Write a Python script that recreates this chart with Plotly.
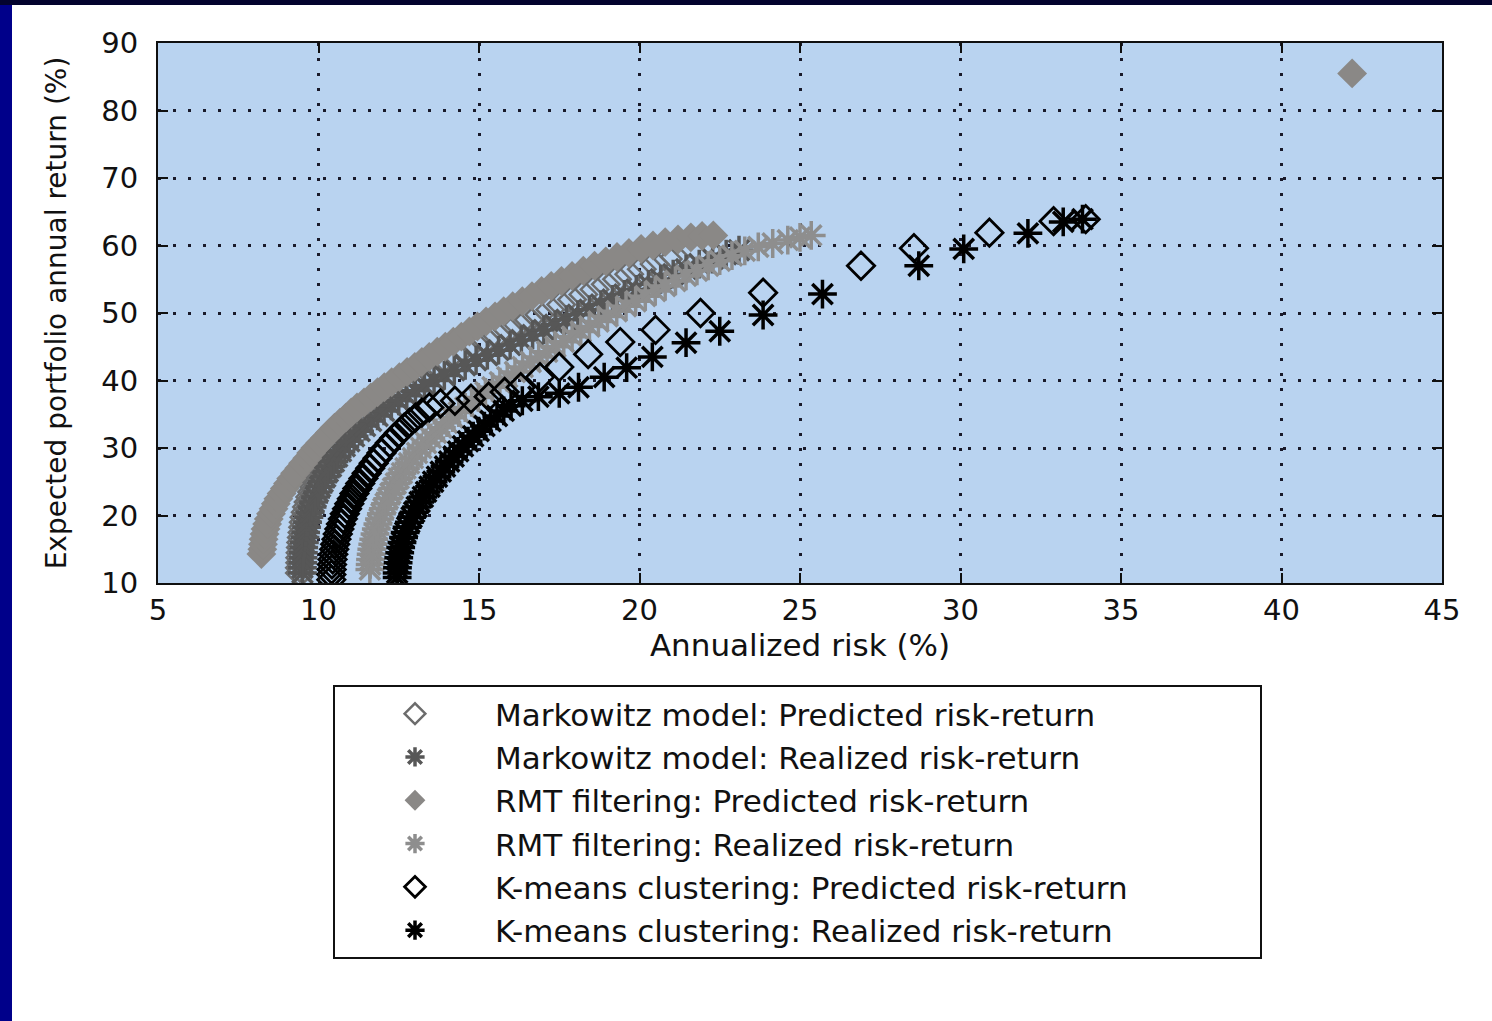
import plotly.graph_objects as go

# ---- Markowitz model ----
mk_pred_ret = [11.5, 12.25, 13.0, 13.75, 14.5, 15.25, 16.0, 16.75, 17.5, 18.25, 19.0, 19.75, 20.5,
               21.25, 22.0, 22.75, 23.5, 24.25, 25.0, 25.75, 26.5, 27.25, 28.0, 28.75, 29.5, 30.25,
               31.0, 31.75, 32.5, 33.25, 34.0, 34.75, 35.5, 36.25, 37.0, 37.75, 38.5, 39.25, 40.0,
               40.75, 41.5, 42.25, 43.0, 43.75, 44.5, 45.25, 46.0, 46.75, 47.5, 48.25, 49.0, 49.75,
               50.5, 51.25, 52.0, 52.75, 53.5, 54.25, 55.0, 55.75, 56.5, 57.25, 58.0, 58.3]
mk_pred_risk = [9.42, 9.42, 9.43, 9.43, 9.44, 9.45, 9.46, 9.48, 9.50, 9.52, 9.54, 9.56, 9.60,
                9.64, 9.69, 9.74, 9.80, 9.86, 9.93, 10.01, 10.09, 10.18, 10.27, 10.36, 10.45, 10.55,
                10.67, 10.80, 10.94, 11.09, 11.24, 11.39, 11.55, 11.74, 11.96, 12.17, 12.40, 12.64, 12.90,
                13.15, 13.42, 13.70, 13.98, 14.28, 14.58, 14.90, 15.22, 15.55, 15.90, 16.22, 16.55, 16.88,
                17.22, 17.56, 17.90, 18.25, 18.60, 18.95, 19.30, 19.68, 20.07, 20.47, 20.88, 21.10]

mk_real_ret = [11.5, 12.25, 13.0, 13.75, 14.5, 15.25, 16.0, 16.75, 17.5, 18.25, 19.0, 19.75, 20.5,
               21.25, 22.0, 22.75, 23.5, 24.25, 25.0, 25.75, 26.5, 27.25, 28.0, 28.75, 29.5, 30.25,
               31.0, 31.75, 32.5, 33.25, 34.0, 34.75, 35.5, 36.25, 37.0, 37.75, 38.5, 39.25, 40.0,
               40.75, 41.5, 42.25, 43.0, 43.75, 44.5, 45.25, 46.0, 46.75, 47.5, 48.25, 49.0, 49.75,
               50.5, 51.25, 52.0, 52.75, 53.5, 54.25, 55.0, 55.75, 56.5, 57.25, 58.0, 58.7, 59.3]
mk_real_risk = [9.50, 9.50, 9.51, 9.52, 9.53, 9.54, 9.56, 9.58, 9.60, 9.63, 9.66, 9.70, 9.74,
                9.80, 9.85, 9.91, 9.98, 10.05, 10.13, 10.21, 10.29, 10.39, 10.48, 10.58, 10.70, 10.82,
                10.96, 11.11, 11.28, 11.45, 11.64, 11.84, 12.04, 12.27, 12.50, 12.75, 13.02, 13.30, 13.60,
                13.92, 14.23, 14.57, 14.91, 15.26, 15.61, 15.97, 16.32, 16.67, 17.02, 17.37, 17.72, 18.08,
                18.44, 18.80, 19.16, 19.53, 19.90, 20.28, 20.66, 21.05, 21.45, 21.86, 22.28, 22.70, 23.10]

# ---- RMT filtering ----
rmt_pred_ret = [14.3, 15.0, 15.75, 16.5, 17.25, 18.0, 18.75, 19.5, 20.25, 21.0, 21.75, 22.5, 23.25,
                24.0, 24.75, 25.5, 26.25, 27.0, 27.75, 28.5, 29.25, 30.0, 30.75, 31.5, 32.25, 33.0,
                33.75, 34.5, 35.25, 36.0, 36.75, 37.5, 38.25, 39.0, 39.75, 40.5, 41.25, 42.0, 42.75,
                43.5, 44.25, 45.0, 45.75, 46.5, 47.25, 48.0, 48.75, 49.5, 50.25, 51.0, 51.75, 52.5,
                53.25, 54.0, 54.75, 55.5, 56.25, 57.0, 57.65, 58.3, 58.9, 59.5, 60.0, 60.5, 60.9,
                61.2, 61.4, 61.5, 85.5]
rmt_pred_risk = [8.22, 8.25, 8.27, 8.29, 8.32, 8.35, 8.40, 8.45, 8.52, 8.60, 8.67, 8.75, 8.85,
                 8.95, 9.05, 9.15, 9.27, 9.40, 9.52, 9.65, 9.77, 9.90, 10.05, 10.20, 10.35, 10.50,
                 10.67, 10.85, 11.02, 11.20, 11.42, 11.63, 11.84, 12.05, 12.28, 12.52, 12.76, 13.0, 13.22,
                 13.45, 13.70, 13.95, 14.20, 14.45, 14.70, 14.95, 15.22, 15.50, 15.77, 16.05, 16.35, 16.65,
                 16.95, 17.25, 17.57, 17.90, 18.25, 18.60, 18.95, 19.30, 19.67, 20.05, 20.42, 20.80, 21.20,
                 21.60, 21.95, 22.30, 42.2]

rmt_real_ret = [12.0, 12.75, 13.5, 14.25, 15.0, 15.75, 16.5, 17.25, 18.0, 18.75, 19.5, 20.25, 21.0,
                21.75, 22.5, 23.25, 24.0, 24.75, 25.5, 26.25, 27.0, 27.75, 28.5, 29.25, 30.0, 30.75,
                31.5, 32.25, 33.0, 33.75, 34.5, 35.25, 36.0, 36.75, 37.5, 38.25, 39.0, 39.75, 40.5,
                41.25, 42.0, 42.75, 43.5, 44.25, 45.0, 45.75, 46.5, 47.25, 48.0, 48.75, 49.5, 50.25,
                51.0, 51.75, 52.5, 53.25, 54.0, 54.75, 55.5, 56.25, 57.0, 57.75, 58.5, 59.2, 59.8,
                60.3, 60.8, 61.2, 61.5]
rmt_real_risk = [11.60, 11.61, 11.62, 11.64, 11.66, 11.69, 11.72, 11.76, 11.80, 11.85, 11.90, 11.96, 12.02,
                 12.09, 12.16, 12.24, 12.32, 12.41, 12.50, 12.60, 12.71, 12.82, 12.94, 13.07, 13.20, 13.35,
                 13.50, 13.66, 13.83, 14.00, 14.18, 14.37, 14.57, 14.77, 14.98, 15.20, 15.42, 15.65, 15.88,
                 16.12, 16.36, 16.61, 16.86, 17.12, 17.38, 17.64, 17.90, 18.17, 18.44, 18.72, 19.00, 19.29,
                 19.58, 19.88, 20.18, 20.49, 20.80, 21.12, 21.45, 21.79, 22.14, 22.50, 22.88, 23.28, 23.70,
                 24.15, 24.62, 25.00, 25.35]

# ---- K-means clustering ----
km_pred_ret = [10.5, 11.25, 12.0, 12.75, 13.5, 14.25, 15.0, 15.75, 16.5, 17.25, 18.0, 18.75, 19.5,
               20.25, 21.0, 21.75, 22.5, 23.25, 24.0, 24.75, 25.5, 26.25, 27.0, 27.75, 28.5, 29.25,
               30.0, 30.75, 31.5, 32.25, 33.0, 33.75, 34.5, 35.25, 36.0, 36.6, 37.0, 37.3, 37.6,
               38.3, 39.0, 40.5, 42.0, 43.9, 45.7, 47.5, 50.0, 53.0, 57.0, 59.6, 61.9, 63.6, 63.9]
km_pred_risk = [10.40, 10.40, 10.41, 10.42, 10.44, 10.46, 10.49, 10.52, 10.56, 10.60, 10.65, 10.70, 10.76,
                10.82, 10.89, 10.96, 11.04, 11.12, 11.21, 11.30, 11.40, 11.50, 11.61, 11.72, 11.84, 11.96,
                12.09, 12.22, 12.36, 12.51, 12.67, 12.84, 13.02, 13.22, 13.45, 13.80, 14.25, 14.75, 15.30,
                15.80, 16.30, 16.90, 17.50, 18.40, 19.40, 20.50, 21.90, 23.85, 26.90, 28.55, 30.90, 32.90, 33.90]

km_real_ret = [10.8, 11.5, 12.25, 13.0, 13.75, 14.5, 15.25, 16.0, 16.75, 17.5, 18.25, 19.0, 19.75,
               20.5, 21.25, 22.0, 22.75, 23.5, 24.25, 25.0, 25.75, 26.5, 27.25, 28.0, 28.75, 29.5,
               30.25, 31.0, 31.75, 32.5, 33.25, 34.0, 34.75, 35.5, 36.25, 37.0, 37.6, 38.1, 39.0,
               40.5, 41.9, 43.5, 45.6, 47.3, 49.7, 52.8, 57.0, 59.5, 61.8, 63.5, 63.9]
km_real_risk = [12.45, 12.45, 12.46, 12.48, 12.50, 12.53, 12.56, 12.60, 12.65, 12.70, 12.76, 12.83, 12.90,
                12.98, 13.06, 13.15, 13.25, 13.35, 13.46, 13.57, 13.69, 13.81, 13.94, 14.07, 14.21, 14.35,
                14.50, 14.66, 14.82, 14.99, 15.17, 15.36, 15.56, 15.77, 16.00, 16.35, 16.85, 17.50, 18.10,
                18.90, 19.60, 20.40, 21.45, 22.50, 23.85, 25.70, 28.70, 30.10, 32.10, 33.20, 33.80]

series_names = [
    "Markowitz model: Predicted risk-return",
    "Markowitz model: Realized risk-return",
    "RMT filtering: Predicted risk-return",
    "RMT filtering: Realized risk-return",
    "K-means clustering: Predicted risk-return",
    "K-means clustering: Realized risk-return",
]

x_ticks = [5, 10, 15, 20, 25, 30, 35, 40, 45]
y_ticks = [10, 20, 30, 40, 50, 60, 70, 80, 90]

FONT = "DejaVu Sans"

fig = go.Figure()


def add_series(name, xs, ys, symbol, size, color, fill=None, lw=2.0):
    marker = dict(symbol=symbol, size=size,
                  color=fill if fill is not None else color,
                  line=dict(color=color, width=lw))
    fig.add_trace(go.Scatter(x=xs, y=ys, mode="markers", name=name, marker=marker))


add_series(series_names[0], mk_pred_risk, mk_pred_ret, "diamond-open", 21, "#6c6c6c", lw=2.5)
add_series(series_names[1], mk_real_risk, mk_real_ret, "asterisk-open", 24, "#575757", lw=3.5)
add_series(series_names[2], rmt_pred_risk, rmt_pred_ret, "diamond", 23, "#8a8886", fill="#8a8886", lw=0)
add_series(series_names[3], rmt_real_risk, rmt_real_ret, "asterisk-open", 24, "#8e8e8e", lw=3.5)
add_series(series_names[4], km_pred_risk, km_pred_ret, "diamond-open", 21, "#000000", lw=2.8)
add_series(series_names[5], km_real_risk, km_real_ret, "asterisk-open", 24, "#000000", lw=3.5)

# plot area occupies x 158..1442, y 43..583 of the 1492x1021 page
L, R, T, B = 158, 1442, 43, 583
W, H = 1492, 1021


def px_x(p):
    return (p - L) / (R - L)


def px_y(p):
    return (B - p) / (B - T)


# slide frame: dark strip on top and blue strip on the left
fig.add_shape(type="rect", xref="paper", yref="paper",
              x0=px_x(0), x1=px_x(12), y0=px_y(W), y1=px_y(0),
              fillcolor="#00008a", line_width=0, layer="above")
fig.add_shape(type="rect", xref="paper", yref="paper",
              x0=px_x(0), x1=px_x(W), y0=px_y(5), y1=px_y(0),
              fillcolor="#03032e", line_width=0, layer="above")

axis_common = dict(
    showline=True, linecolor="#101010", linewidth=2, mirror="ticks",
    ticks="inside", ticklen=10, tickwidth=2, tickcolor="#101010",
    showgrid=True, gridcolor="#1a1a2a", gridwidth=2.5, griddash="3px,12px",
    zeroline=False, tickfont=dict(family=FONT, size=29, color="#111111"),
)

fig.update_layout(
    width=W, height=H,
    margin=dict(l=L, r=W - R, t=T, b=H - B, pad=0),
    paper_bgcolor="white", plot_bgcolor="#b9d3f0",
    font=dict(family=FONT, color="#111111"),
    xaxis=dict(range=[5, 45], tickvals=x_ticks, ticktext=[str(v) for v in x_ticks],
               title=dict(text="Annualized risk (%)", font=dict(family=FONT, size=31), standoff=8),
               **axis_common),
    yaxis=dict(range=[10, 90], tickvals=y_ticks, ticktext=[str(v) for v in y_ticks],
               ticklabelstandoff=12,
               title=dict(text="Expected portfolio annual return (%)", font=dict(family=FONT, size=28),
                          standoff=26),
               **axis_common),
    showlegend=True,
    legend=dict(x=px_x(333), y=px_y(685), xanchor="left", yanchor="top",
                orientation="h", entrywidth=760, entrywidthmode="pixels",
                bgcolor="white", bordercolor="#111111", borderwidth=2,
                font=dict(family=FONT, size=31, color="#111111"),
                itemwidth=150),
)

fig.write_html("out.html")
